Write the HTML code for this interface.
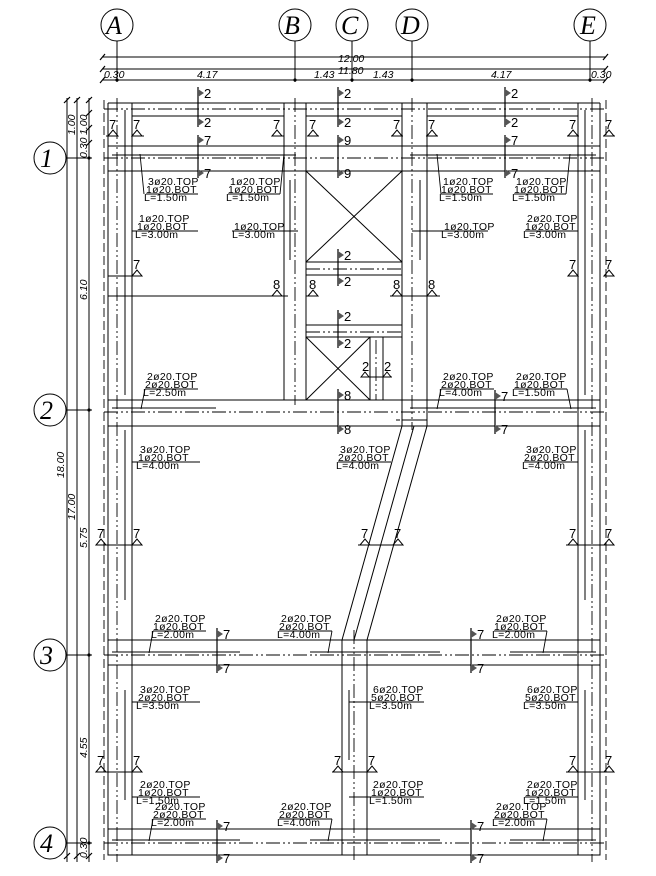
<!DOCTYPE html>
<html><head><meta charset="utf-8"><style>
html,body{margin:0;padding:0;background:#fff}
svg{display:block}
text{font-family:"Liberation Sans",sans-serif;fill:#000}
.r{font-size:10.5px;letter-spacing:0.3px}
.d{font-size:10.5px;font-style:italic}
.m{font-size:13px}
.ax{font-family:"Liberation Serif",serif;font-size:26px;font-style:italic}
</style></head><body>
<svg width="656" height="876" viewBox="0 0 656 876" xmlns="http://www.w3.org/2000/svg">
<g stroke="#000" stroke-width="1" fill="none">
<circle cx="117" cy="25" r="16"/><circle cx="295" cy="25" r="16"/><circle cx="352" cy="25" r="16"/><circle cx="412" cy="25" r="16"/><circle cx="590" cy="25" r="16"/>
<line x1="117" y1="41" x2="117" y2="82"/><line x1="295" y1="41" x2="295" y2="82"/><line x1="352" y1="41" x2="352" y2="82"/><line x1="412" y1="41" x2="412" y2="82"/><line x1="590" y1="41" x2="590" y2="82"/>
<circle cx="50" cy="158" r="16"/><circle cx="50" cy="410" r="16"/><circle cx="50" cy="655" r="16"/><circle cx="50" cy="843" r="16"/>
<line x1="66" y1="158" x2="92" y2="158"/><line x1="66" y1="410" x2="92" y2="410"/><line x1="66" y1="655" x2="92" y2="655"/><line x1="66" y1="843" x2="92" y2="843"/>
<line x1="102" y1="57" x2="606" y2="57"/><line x1="102" y1="69" x2="606" y2="69"/><line x1="102" y1="80" x2="606" y2="80"/>
<line x1="67" y1="98" x2="67" y2="862"/><line x1="77" y1="98" x2="77" y2="862"/><line x1="89" y1="98" x2="89" y2="862"/>
</g>
<g fill="#000">
<circle cx="295" cy="80" r="1.6"/><circle cx="352" cy="80" r="1.6"/><circle cx="412" cy="80" r="1.6"/><circle cx="117" cy="80" r="1.6"/><circle cx="590" cy="80" r="1.6"/>
<circle cx="89" cy="158" r="1.6"/><circle cx="89" cy="410" r="1.6"/><circle cx="89" cy="655" r="1.6"/><circle cx="89" cy="843" r="1.6"/>
</g>
<g stroke="#000" stroke-width="1.2">
<line x1="100" y1="60" x2="105" y2="54"/><line x1="603" y1="60" x2="608" y2="54"/><line x1="100" y1="72" x2="105" y2="66"/><line x1="603" y1="72" x2="608" y2="66"/><line x1="100" y1="83" x2="105" y2="77"/><line x1="603" y1="83" x2="608" y2="77"/>
<line x1="64" y1="103" x2="70" y2="97"/><line x1="64" y1="859" x2="70" y2="853"/><line x1="74" y1="103" x2="80" y2="97"/><line x1="74" y1="859" x2="80" y2="853"/><line x1="86" y1="103" x2="92" y2="97"/><line x1="86" y1="116" x2="92" y2="110"/><line x1="86" y1="131" x2="92" y2="125"/><line x1="86" y1="146" x2="92" y2="140"/><line x1="86" y1="859" x2="92" y2="853"/>
</g>
<text class="ax" x="106" y="34">A</text><text class="ax" x="284" y="34">B</text><text class="ax" x="341" y="34">C</text><text class="ax" x="401" y="34">D</text><text class="ax" x="580" y="34">E</text>
<text class="ax" x="40" y="167">1</text><text class="ax" x="40" y="419">2</text><text class="ax" x="40" y="664">3</text><text class="ax" x="40" y="852">4</text>
<text class="d" x="338" y="62">12.00</text><text class="d" x="338" y="74">11.80</text>
<text class="d" x="104" y="78">0.30</text><text class="d" x="197" y="78">4.17</text><text class="d" x="314" y="78">1.43</text><text class="d" x="373" y="78">1.43</text><text class="d" x="491" y="78">4.17</text><text class="d" x="591" y="78">0.30</text>
<text class="d" transform="translate(64,478) rotate(-90)">18.00</text>
<text class="d" transform="translate(75,520) rotate(-90)">17.00</text>
<text class="d" transform="translate(75,135) rotate(-90)">1.00</text>
<text class="d" transform="translate(87,135) rotate(-90)">1.00</text>
<text class="d" transform="translate(87,158) rotate(-90)">0.30</text>
<text class="d" transform="translate(87,300) rotate(-90)">6.10</text>
<text class="d" transform="translate(87,548) rotate(-90)">5.75</text>
<text class="d" transform="translate(87,758) rotate(-90)">4.55</text>
<text class="d" transform="translate(87,858) rotate(-90)">0.30</text>

<g stroke="#000" stroke-width="1" fill="none">
<line x1="108" y1="103" x2="108" y2="855"/><line x1="600" y1="103" x2="600" y2="855"/>
<line x1="108" y1="103" x2="600" y2="103"/><line x1="108" y1="855" x2="600" y2="855"/>
<line x1="132" y1="103" x2="132" y2="855"/><line x1="578" y1="103" x2="578" y2="855"/>
<line x1="284" y1="103" x2="284" y2="400"/><line x1="306" y1="103" x2="306" y2="400"/>
<line x1="402" y1="103" x2="402" y2="420"/><line x1="427" y1="103" x2="427" y2="420"/>
<line x1="342" y1="640" x2="342" y2="855"/><line x1="367" y1="640" x2="367" y2="855"/>
<line x1="132" y1="116" x2="284" y2="116"/><line x1="306" y1="116" x2="402" y2="116"/><line x1="427" y1="116" x2="578" y2="116"/>
<line x1="108" y1="146" x2="600" y2="146"/><line x1="108" y1="171" x2="600" y2="171"/>
<line x1="108" y1="400" x2="600" y2="400"/><line x1="108" y1="426" x2="600" y2="426"/>
<line x1="108" y1="640" x2="600" y2="640"/><line x1="108" y1="665" x2="600" y2="665"/>
<line x1="108" y1="829" x2="600" y2="829"/>
<line x1="306" y1="171" x2="402" y2="262"/><line x1="402" y1="171" x2="306" y2="262"/>
<line x1="306" y1="262" x2="402" y2="262"/><line x1="306" y1="275" x2="402" y2="275"/>
<line x1="306" y1="325" x2="402" y2="325"/><line x1="306" y1="337" x2="402" y2="337"/>
<line x1="306" y1="337" x2="370" y2="400"/><line x1="370" y1="337" x2="306" y2="400"/>
<line x1="370" y1="337" x2="370" y2="400"/><line x1="383" y1="337" x2="383" y2="400"/>
<line x1="362" y1="377" x2="392" y2="377"/>
<line x1="402" y1="426" x2="342" y2="640"/><line x1="427" y1="426" x2="367" y2="640"/>
<line x1="414" y1="426" x2="354" y2="640"/>
<line x1="396" y1="420" x2="400" y2="420"/><line x1="402" y1="420" x2="427" y2="420"/>
<rect x="108" y="146" width="24" height="25"/><rect x="578" y="146" width="22" height="25"/>
<rect x="284" y="146" width="22" height="25"/><rect x="402" y="146" width="25" height="25"/>
<rect x="108" y="400" width="24" height="26"/><rect x="578" y="400" width="22" height="26"/><rect x="402" y="400" width="25" height="26"/>
<rect x="108" y="640" width="24" height="25"/><rect x="578" y="640" width="22" height="25"/><rect x="342" y="640" width="25" height="25"/>
<rect x="108" y="829" width="24" height="26"/><rect x="578" y="829" width="22" height="26"/><rect x="342" y="829" width="25" height="26"/>
<line x1="112" y1="155" x2="296" y2="155"/><line x1="410" y1="155" x2="596" y2="155"/>
<line x1="112" y1="408" x2="216" y2="408"/><line x1="410" y1="408" x2="596" y2="408"/>
<line x1="112" y1="652" x2="240" y2="652"/><line x1="310" y1="652" x2="440" y2="652"/><line x1="510" y1="652" x2="596" y2="652"/>
<line x1="112" y1="840" x2="240" y2="840"/><line x1="310" y1="840" x2="440" y2="840"/><line x1="510" y1="840" x2="596" y2="840"/>
<line x1="125" y1="110" x2="125" y2="395"/><line x1="585" y1="110" x2="585" y2="395"/>
<line x1="125" y1="430" x2="125" y2="600"/><line x1="585" y1="430" x2="585" y2="600"/>
<line x1="125" y1="690" x2="125" y2="800"/><line x1="585" y1="690" x2="585" y2="800"/>
<line x1="290" y1="180" x2="290" y2="260"/><line x1="420" y1="180" x2="420" y2="260"/>
<line x1="349" y1="690" x2="349" y2="760"/>
</g>
<g stroke="#000" stroke-width="0.9" stroke-dasharray="14 3 2 3 2 3" fill="none">
<line x1="117" y1="98" x2="117" y2="862"/><line x1="592" y1="98" x2="592" y2="862"/>
<line x1="295" y1="98" x2="295" y2="405"/><line x1="412" y1="98" x2="412" y2="430"/>
<line x1="354" y1="630" x2="354" y2="862"/><line x1="376" y1="340" x2="376" y2="400"/>
<line x1="104" y1="109" x2="604" y2="109"/><line x1="104" y1="158" x2="604" y2="158"/>
<line x1="104" y1="412" x2="604" y2="412"/><line x1="104" y1="655" x2="604" y2="655"/><line x1="104" y1="843" x2="604" y2="843"/>
<line x1="306" y1="269" x2="402" y2="269"/><line x1="306" y1="332" x2="402" y2="332"/>
</g>
<g stroke="#000" stroke-width="0.9" stroke-dasharray="9 4" fill="none">
<line x1="104" y1="100" x2="104" y2="860"/><line x1="606" y1="100" x2="606" y2="860"/>
</g>

<g stroke="#000" stroke-width="1.2">
<line x1="198" y1="87" x2="198" y2="127"/><line x1="198" y1="135" x2="198" y2="178"/>
<line x1="338" y1="87" x2="338" y2="127"/><line x1="338" y1="135" x2="338" y2="178"/>
<line x1="338" y1="249" x2="338" y2="286"/><line x1="338" y1="310" x2="338" y2="348"/><line x1="338" y1="389" x2="338" y2="434"/>
<line x1="505" y1="87" x2="505" y2="127"/><line x1="505" y1="135" x2="505" y2="178"/>
<line x1="495" y1="390" x2="495" y2="434"/>
<line x1="217" y1="628" x2="217" y2="673"/><line x1="471" y1="628" x2="471" y2="673"/>
<line x1="217" y1="820" x2="217" y2="863"/><line x1="471" y1="820" x2="471" y2="863"/>
</g>
<g fill="#555">
<polygon points="198,89 204,93 198,97"/><polygon points="198,118 204,122 198,126"/><polygon points="198,136 204,140 198,144"/><polygon points="198,169 204,173 198,177"/>
<polygon points="338,89 344,93 338,97"/><polygon points="338,118 344,122 338,126"/><polygon points="338,136 344,140 338,144"/><polygon points="338,169 344,173 338,177"/>
<polygon points="338,251 344,255 338,259"/><polygon points="338,277 344,281 338,285"/><polygon points="338,312 344,316 338,320"/><polygon points="338,339 344,343 338,347"/>
<polygon points="338,391 344,395 338,399"/><polygon points="338,425 344,429 338,433"/>
<polygon points="505,89 511,93 505,97"/><polygon points="505,118 511,122 505,126"/><polygon points="505,136 511,140 505,144"/><polygon points="505,169 511,173 505,177"/>
<polygon points="495,392 501,396 495,400"/><polygon points="495,425 501,429 495,433"/>
<polygon points="217,630 223,634 217,638"/><polygon points="217,664 223,668 217,672"/><polygon points="471,630 477,634 471,638"/><polygon points="471,664 477,668 471,672"/>
<polygon points="217,822 223,826 217,830"/><polygon points="217,854 223,858 217,862"/><polygon points="471,822 477,826 471,830"/><polygon points="471,854 477,858 471,862"/>
</g>
<g>
<text class="m" x="204" y="98">2</text><text class="m" x="204" y="127">2</text><text class="m" x="204" y="145">7</text><text class="m" x="204" y="178">7</text>
<text class="m" x="344" y="98">2</text><text class="m" x="344" y="127">2</text><text class="m" x="344" y="145">9</text><text class="m" x="344" y="178">9</text>
<text class="m" x="344" y="260">2</text><text class="m" x="344" y="286">2</text><text class="m" x="344" y="321">2</text><text class="m" x="344" y="348">2</text>
<text class="m" x="344" y="400">8</text><text class="m" x="344" y="434">8</text>
<text class="m" x="511" y="98">2</text><text class="m" x="511" y="127">2</text><text class="m" x="511" y="145">7</text><text class="m" x="511" y="178">7</text>
<text class="m" x="501" y="401">7</text><text class="m" x="501" y="434">7</text>
<text class="m" x="223" y="639">7</text><text class="m" x="223" y="673">7</text><text class="m" x="477" y="639">7</text><text class="m" x="477" y="673">7</text>
<text class="m" x="223" y="831">7</text><text class="m" x="223" y="863">7</text><text class="m" x="477" y="831">7</text><text class="m" x="477" y="863">7</text>
</g>

<g stroke="#000" stroke-width="1" fill="none">
<path d="M106,136 l11,0 M132,136 l12,0 M272,136 l12,0 M307,136 l12,0 M391,136 l12,0 M426,136 l12,0 M567,136 l12,0 M603,136 l12,0"/>
<path d="M108,136 l5,-6 l5,6z M132,136 l5,-6 l5,6z M272,136 l5,-6 l5,6z M308,136 l5,-6 l5,6z M392,136 l5,-6 l5,6z M427,136 l5,-6 l5,6z M568,136 l5,-6 l5,6z M604,136 l5,-6 l5,6z"/>
<path d="M132,276 l10,0 M568,276 l10,0 M604,276 l10,0 M132,276 l5,-6 l5,6z M568,276 l5,-6 l5,6z M604,276 l5,-6 l5,6z M132,276 l-24,0"/>
<path d="M272,296 l5,-6 l5,6z M308,296 l5,-6 l5,6z M392,296 l5,-6 l5,6z M427,296 l5,-6 l5,6z M108,296 l180,0 M306,296 l12,0 M390,296 l50,0"/>
<path d="M361,377 l4,-5 l4,5z M383,377 l4,-5 l4,5z"/>
<path d="M96,545 l5,-6 l5,6z M132,545 l5,-6 l5,6z M360,545 l5,-6 l5,6z M393,545 l5,-6 l5,6z M568,545 l5,-6 l5,6z M604,545 l5,-6 l5,6z M97,545 l45,0 M358,545 l45,0 M566,545 l48,0"/>
<path d="M96,772 l5,-6 l5,6z M132,772 l5,-6 l5,6z M333,772 l5,-6 l5,6z M367,772 l5,-6 l5,6z M568,772 l5,-6 l5,6z M604,772 l5,-6 l5,6z M97,772 l45,0 M332,772 l45,0 M566,772 l48,0"/>
</g>
<g>
<text class="m" x="109" y="129">7</text><text class="m" x="133" y="129">7</text><text class="m" x="273" y="129">7</text><text class="m" x="309" y="129">7</text><text class="m" x="393" y="129">7</text><text class="m" x="428" y="129">7</text><text class="m" x="569" y="129">7</text><text class="m" x="605" y="129">7</text>
<text class="m" x="133" y="269">7</text><text class="m" x="569" y="269">7</text><text class="m" x="605" y="269">7</text>
<text class="m" x="273" y="289">8</text><text class="m" x="309" y="289">8</text><text class="m" x="393" y="289">8</text><text class="m" x="428" y="289">8</text>
<text class="m" x="362" y="371">2</text><text class="m" x="384" y="371">2</text>
<text class="m" x="97" y="538">7</text><text class="m" x="133" y="538">7</text><text class="m" x="361" y="538">7</text><text class="m" x="394" y="538">7</text><text class="m" x="569" y="538">7</text><text class="m" x="605" y="538">7</text>
<text class="m" x="97" y="765">7</text><text class="m" x="133" y="765">7</text><text class="m" x="334" y="765">7</text><text class="m" x="368" y="765">7</text><text class="m" x="569" y="765">7</text><text class="m" x="605" y="765">7</text>
</g>

<g>
<text class="r" x="148" y="185">3ø20.TOP</text><text class="r" x="146" y="193">1ø20.BOT</text><text class="r" x="144" y="201">L=1.50m</text>
<text class="r" x="230" y="185">1ø20.TOP</text><text class="r" x="228" y="193">1ø20.BOT</text><text class="r" x="226" y="201">L=1.50m</text>
<text class="r" x="443" y="185">1ø20.TOP</text><text class="r" x="441" y="193">1ø20.BOT</text><text class="r" x="439" y="201">L=1.50m</text>
<text class="r" x="516" y="185">1ø20.TOP</text><text class="r" x="514" y="193">1ø20.BOT</text><text class="r" x="512" y="201">L=1.50m</text>
<text class="r" x="139" y="222">1ø20.TOP</text><text class="r" x="137" y="230">1ø20.BOT</text><text class="r" x="135" y="238">L=3.00m</text>
<text class="r" x="234" y="230">1ø20.TOP</text><text class="r" x="232" y="238">L=3.00m</text>
<text class="r" x="444" y="230">1ø20.TOP</text><text class="r" x="441" y="238">L=3.00m</text>
<text class="r" x="527" y="222">2ø20.TOP</text><text class="r" x="525" y="230">1ø20.BOT</text><text class="r" x="523" y="238">L=3.00m</text>
<text class="r" x="147" y="380">2ø20.TOP</text><text class="r" x="145" y="388">2ø20.BOT</text><text class="r" x="143" y="396">L=2.50m</text>
<text class="r" x="443" y="380">2ø20.TOP</text><text class="r" x="441" y="388">2ø20.BOT</text><text class="r" x="439" y="396">L=4.00m</text>
<text class="r" x="516" y="380">2ø20.TOP</text><text class="r" x="514" y="388">1ø20.BOT</text><text class="r" x="512" y="396">L=1.50m</text>
<text class="r" x="140" y="453">3ø20.TOP</text><text class="r" x="138" y="461">1ø20.BOT</text><text class="r" x="136" y="469">L=4.00m</text>
<text class="r" x="340" y="453">3ø20.TOP</text><text class="r" x="338" y="461">2ø20.BOT</text><text class="r" x="336" y="469">L=4.00m</text>
<text class="r" x="526" y="453">3ø20.TOP</text><text class="r" x="524" y="461">2ø20.BOT</text><text class="r" x="522" y="469">L=4.00m</text>
<text class="r" x="155" y="622">2ø20.TOP</text><text class="r" x="153" y="630">1ø20.BOT</text><text class="r" x="151" y="638">L=2.00m</text>
<text class="r" x="281" y="622">2ø20.TOP</text><text class="r" x="279" y="630">2ø20.BOT</text><text class="r" x="277" y="638">L=4.00m</text>
<text class="r" x="496" y="622">2ø20.TOP</text><text class="r" x="494" y="630">1ø20.BOT</text><text class="r" x="492" y="638">L=2.00m</text>
<text class="r" x="140" y="693">3ø20.TOP</text><text class="r" x="138" y="701">2ø20.BOT</text><text class="r" x="136" y="709">L=3.50m</text>
<text class="r" x="373" y="693">6ø20.TOP</text><text class="r" x="371" y="701">5ø20.BOT</text><text class="r" x="369" y="709">L=3.50m</text>
<text class="r" x="527" y="693">6ø20.TOP</text><text class="r" x="525" y="701">5ø20.BOT</text><text class="r" x="523" y="709">L=3.50m</text>
<text class="r" x="140" y="788">2ø20.TOP</text><text class="r" x="138" y="796">1ø20.BOT</text><text class="r" x="136" y="804">L=1.50m</text>
<text class="r" x="155" y="810">2ø20.TOP</text><text class="r" x="153" y="818">2ø20.BOT</text><text class="r" x="151" y="826">L=2.00m</text>
<text class="r" x="281" y="810">2ø20.TOP</text><text class="r" x="279" y="818">2ø20.BOT</text><text class="r" x="277" y="826">L=4.00m</text>
<text class="r" x="373" y="788">2ø20.TOP</text><text class="r" x="371" y="796">1ø20.BOT</text><text class="r" x="369" y="804">L=1.50m</text>
<text class="r" x="527" y="788">2ø20.TOP</text><text class="r" x="525" y="796">1ø20.BOT</text><text class="r" x="523" y="804">L=1.50m</text>
<text class="r" x="496" y="810">2ø20.TOP</text><text class="r" x="494" y="818">2ø20.BOT</text><text class="r" x="492" y="826">L=2.00m</text>
</g>
<g stroke="#000" stroke-width="0.9" fill="none">
<path d="M146,194 l52,0 M228,194 l52,0 M441,194 l52,0 M514,194 l52,0"/>
<path d="M144,194 l-4,-40 M280,194 l4,-40 M441,194 l-4,-40 M566,194 l4,-40"/>
<path d="M132,231 l66,0 M232,231 l66,0 M412,231 l76,0 M525,231 l53,0"/>
<path d="M145,389 l53,0 M145,389 l-4,20 M441,389 l53,0 M441,389 l-4,20 M514,389 l53,0 M567,389 l4,20"/>
<path d="M132,462 l68,0 M338,462 l53,0 M524,462 l54,0"/>
<path d="M153,631 l53,0 M153,631 l-4,22 M279,631 l53,0 M332,631 l-4,22 M494,631 l53,0 M547,631 l-4,22"/>
<path d="M132,702 l68,0 M349,702 l75,0 M525,702 l53,0"/>
<path d="M132,797 l68,0 M349,797 l75,0 M525,797 l53,0"/>
<path d="M153,819 l53,0 M153,819 l-4,22 M279,819 l53,0 M332,819 l-4,22 M494,819 l53,0 M547,819 l-4,22"/>
</g>
</svg>
</body></html>
